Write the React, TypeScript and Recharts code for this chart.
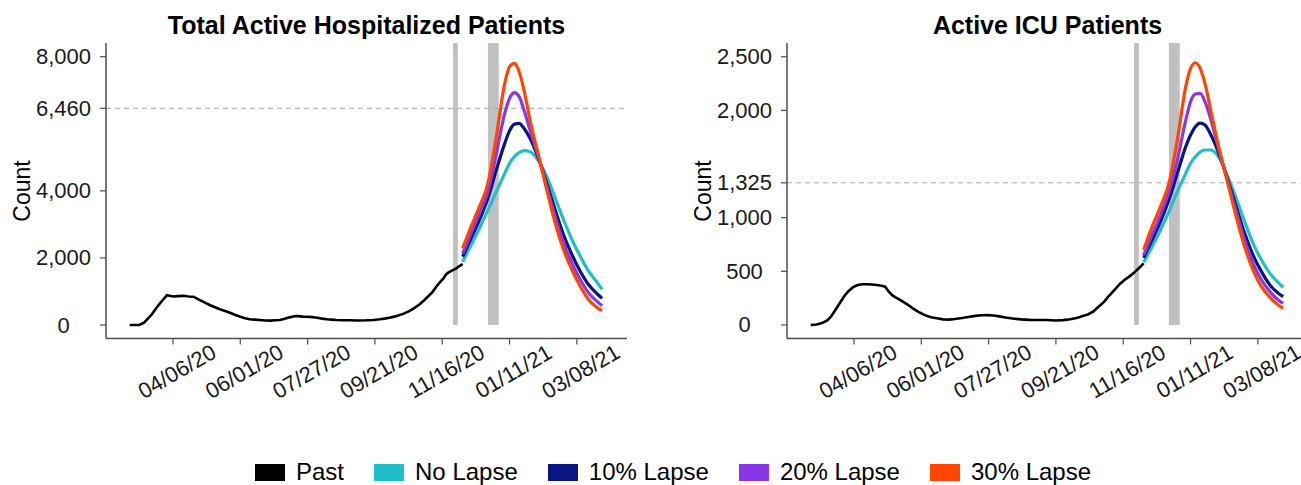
import React from "react";
import {
  LineChart,
  Line,
  XAxis,
  YAxis,
  ReferenceLine,
  ReferenceArea,
} from "recharts";

// days counted from 03/01/20
const tickDays = [36, 92, 148, 204, 260, 316, 372];
const tickLabels = ["04/06/20", "06/01/20", "07/27/20", "09/21/20", "11/16/20", "01/11/21", "03/08/21"];

// holiday shading (Thanksgiving, Christmas/New Year)
const holidayStart = [269, 298];
const holidayEnd = [273, 307];

const hospPastDays = [
  0, 8, 12, 18, 22, 26, 31, 36, 40, 45, 49, 53, 58, 63, 67, 71, 75, 80, 84, 88, 92, 96, 100, 104, 108,
  113, 117, 121, 125, 129, 133, 137, 140, 144, 148, 152, 156, 160, 164, 168, 172, 178, 183, 190, 197,
  203, 208, 212, 216, 220, 224, 228, 233, 237, 241, 245, 249, 252, 255, 258, 261, 263, 265, 268, 271,
  274, 277,
];
const hospPast = [
  0, 0, 70, 300, 500, 680, 890, 850, 860, 870, 850, 845, 750, 660, 590, 530, 470, 410, 360, 300, 245,
  200, 170, 160, 150, 135, 130, 140, 150, 185, 228, 260, 265, 250, 245, 235, 215, 190, 170, 160, 150,
  140, 140, 135, 140, 150, 170, 190, 215, 250, 290, 340, 420, 510, 610, 740, 880, 990, 1140, 1270,
  1390, 1500, 1560, 1620, 1670, 1750, 1820,
];

const icuPastDays = [
  0, 5, 10, 14, 17, 20, 24, 28, 31, 35, 39, 43, 47, 51, 55, 59, 62, 65, 68, 71, 75, 80, 85, 90, 95,
  100, 105, 110, 115, 120, 126, 131, 137, 142, 147, 152, 157, 162, 168, 175, 182, 190, 197, 204, 210,
  216, 222, 227, 231, 235, 239, 244, 248, 253, 257, 261, 266, 270, 274, 277,
];
const icuPast = [
  0, 5, 20, 45, 80, 130, 200, 270, 310, 350, 372, 380, 380, 377, 372, 365, 357, 310, 275, 255, 230,
  195, 155, 120, 92, 72, 62, 52, 50, 55, 65, 75, 85, 90, 92, 88, 80, 70, 60, 52, 48, 47, 46, 42, 45,
  53, 68, 85, 100, 125, 165, 215, 270, 330, 380, 420, 460, 497, 540, 575,
];

const projDays = [277, 284, 291, 298, 305, 312, 316, 320, 324, 328, 333, 340, 347, 354, 361, 368, 375, 382, 389, 393];

const hospNoLapse = [1888, 2385, 2882, 3429, 3975, 4522, 4820, 5019, 5138, 5198, 5168, 4899, 4423, 3777, 3131, 2534, 2037, 1590, 1262, 1064];
const hospLapse10 = [2037, 2584, 3131, 3777, 4621, 5416, 5794, 5983, 6013, 5864, 5566, 4969, 4224, 3429, 2683, 2087, 1590, 1193, 924, 795];
const hospLapse20 = [2137, 2733, 3329, 3975, 5118, 6311, 6758, 6927, 6808, 6410, 5814, 5019, 4125, 3230, 2435, 1838, 1342, 944, 696, 576];
const hospLapse30 = [2286, 2932, 3528, 4224, 5615, 7205, 7703, 7802, 7553, 7007, 6112, 5069, 4025, 3031, 2236, 1640, 1143, 745, 517, 427];

const icuNoLapse = [584, 730, 885, 1056, 1242, 1413, 1507, 1568, 1612, 1631, 1631, 1553, 1382, 1180, 963, 761, 606, 481, 394, 351];
const icuLapse10 = [627, 792, 963, 1165, 1413, 1662, 1770, 1848, 1882, 1864, 1770, 1584, 1351, 1103, 854, 652, 497, 373, 295, 264];
const icuLapse20 = [652, 839, 1025, 1242, 1537, 1910, 2081, 2152, 2159, 2081, 1910, 1615, 1336, 1056, 792, 575, 419, 311, 233, 202];
const icuLapse30 = [699, 916, 1103, 1320, 1724, 2221, 2392, 2444, 2392, 2252, 1988, 1631, 1320, 1009, 730, 512, 357, 258, 186, 155];

const seriesNames = ["Past", "No Lapse", "10% Lapse", "20% Lapse", "30% Lapse"];
const seriesKeys = ["past", "noLapse", "lapse10", "lapse20", "lapse30"];
const seriesColors = ["#000000", "#1fbfca", "#0a1584", "#8a36e6", "#ff4500"];

const FONT = '"Liberation Sans", Arial, sans-serif';

function buildRows(pastDays: number[], past: number[], proj: number[][]) {
  const rows: any[] = pastDays.map((d, i) => ({ day: d, past: past[i] }));
  projDays.forEach((d, i) => {
    let row = rows.find((r) => r.day === d);
    if (!row) {
      row = { day: d };
      rows.push(row);
    }
    row.noLapse = proj[0][i];
    row.lapse10 = proj[1][i];
    row.lapse20 = proj[2][i];
    row.lapse30 = proj[3][i];
  });
  return rows.sort((a, b) => a.day - b.day);
}

const hospRows = buildRows(hospPastDays, hospPast, [hospNoLapse, hospLapse10, hospLapse20, hospLapse30]);
const icuRows = buildRows(icuPastDays, icuPast, [icuNoLapse, icuLapse10, icuLapse20, icuLapse30]);

const XTick = (props: any) => {
  const { x, y, payload } = props;
  const label = tickLabels[tickDays.indexOf(payload.value)];
  return (
    <text
      transform={`translate(${x + 4}, ${y + 25}) rotate(-30)`}
      textAnchor="middle"
      dominantBaseline="central"
      fontSize={22}
      fontFamily={FONT}
      fill="#1a1a1a"
    >
      {label}
    </text>
  );
};

const YTick = (props: any) => {
  const { y, payload } = props;
  return (
    <text
      x={63.5}
      y={y}
      textAnchor="middle"
      dominantBaseline="central"
      fontSize={22}
      fontFamily={FONT}
      fill="#1a1a1a"
    >
      {Number(payload.value).toLocaleString("en-US")}
    </text>
  );
};

const CountLabel = () => (
  <text
    transform="translate(22, 191) rotate(-90)"
    textAnchor="middle"
    dominantBaseline="central"
    fontSize={23}
    fontFamily={FONT}
    fill="#000"
  >
    Count
  </text>
);

interface PanelProps {
  title: string;
  rows: any[];
  yDomain: [number, number];
  yTicks: number[];
  capacity: number;
  left: number;
}

const Panel: React.FC<PanelProps> = ({ title, rows, yDomain, yTicks, capacity, left }) => (
  <div style={{ position: "absolute", left, top: 0, width: 650, height: 420 }}>
    <div
      style={{
        position: "absolute",
        left: 66,
        width: 601,
        top: 10,
        textAlign: "center",
        fontFamily: FONT,
        fontWeight: "bold",
        fontSize: 25,
        lineHeight: "30px",
        color: "#000",
      }}
    >
      {title}
    </div>
    <LineChart
      width={650}
      height={420}
      data={rows}
      margin={{ top: 43, right: 23, bottom: 21.5, left: 46 }}
    >
      <XAxis
        type="number"
        dataKey="day"
        domain={[-19.7, 413.7]}
        ticks={tickDays}
        interval={0}
        allowDataOverflow
        height={60}
        tickSize={6}
        axisLine={{ stroke: "#4d4d4d", strokeWidth: 1.5 }}
        tickLine={{ stroke: "#4d4d4d", strokeWidth: 1.2 }}
        tick={<XTick />}
      />
      <YAxis
        type="number"
        domain={yDomain}
        ticks={yTicks}
        interval={0}
        allowDataOverflow
        width={60}
        tickSize={6}
        axisLine={{ stroke: "#4d4d4d", strokeWidth: 1.5 }}
        tickLine={{ stroke: "#4d4d4d", strokeWidth: 1.2 }}
        tick={<YTick />}
        label={<CountLabel />}
      />
      {holidayStart.map((s, i) => (
        <ReferenceArea
          key={`h-${i}`}
          x1={s}
          x2={holidayEnd[i]}
          y1={0}
          y2={yDomain[1]}
          fill="#c0c0c0"
          fillOpacity={1}
          stroke="none"
        />
      ))}
      <ReferenceLine y={capacity} stroke="#a8a8a8" strokeDasharray="5 4" strokeWidth={1} />
      <Line
        type="linear"
        dataKey="past"
        stroke={seriesColors[0]}
        strokeWidth={2.6}
        dot={false}
        isAnimationActive={false}
      />
      {seriesKeys.slice(1).map((k, i) => (
        <Line
          key={k}
          type="monotone"
          dataKey={k}
          stroke={seriesColors[i + 1]}
          strokeWidth={3.2}
          dot={false}
          isAnimationActive={false}
        />
      ))}
    </LineChart>
  </div>
);

export default function App() {
  return (
    <div
      style={{
        position: "absolute",
        left: 0,
        top: 0,
        width: 1301,
        height: 485,
        overflow: "hidden",
        background: "#fff",
      }}
    >
      <Panel
        title="Total Active Hospitalized Patients"
        rows={hospRows}
        yDomain={[-402, 8408]}
        yTicks={[0, 2000, 4000, 6460, 8000]}
        capacity={6460}
        left={0}
      />
      <Panel
        title="Active ICU Patients"
        rows={icuRows}
        yDomain={[-126, 2628]}
        yTicks={[0, 500, 1000, 1325, 2000, 2500]}
        capacity={1325}
        left={681}
      />
      <div
        style={{
          position: "absolute",
          left: 255,
          top: 458,
          display: "flex",
          alignItems: "center",
          gap: 30,
          fontFamily: FONT,
          fontSize: 24,
          lineHeight: "28px",
          color: "#000",
        }}
      >
        {seriesNames.map((n, i) => (
          <div key={n} style={{ display: "flex", alignItems: "center" }}>
            <span
              style={{
                display: "inline-block",
                width: 30,
                height: 17,
                background: seriesColors[i],
                marginRight: 11,
              }}
            />
            <span>{n}</span>
          </div>
        ))}
      </div>
    </div>
  );
}
